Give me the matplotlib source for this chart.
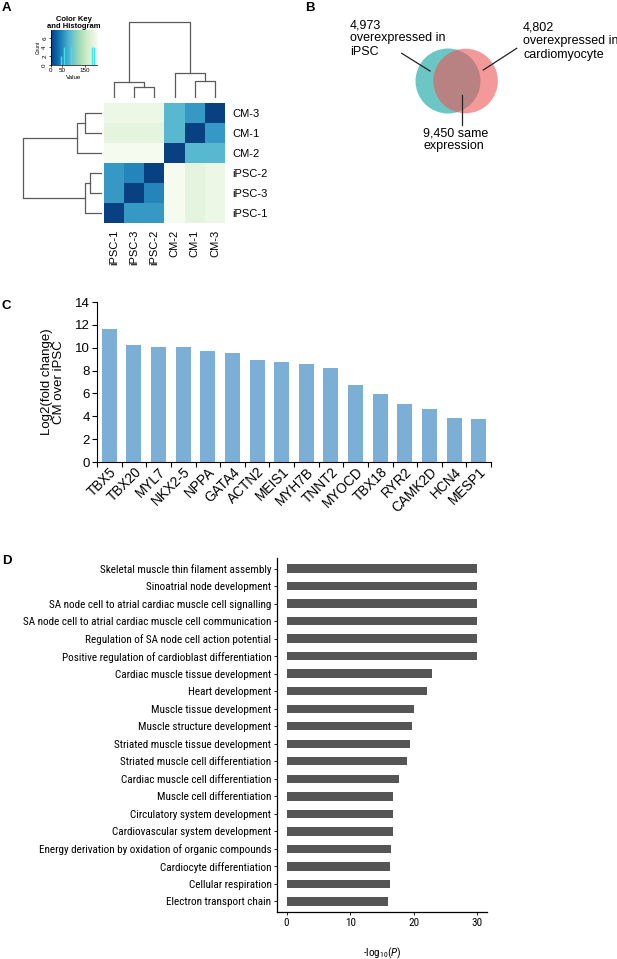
import numpy as np
import matplotlib
matplotlib.use("Agg")
import matplotlib.pyplot as plt
from matplotlib import font_manager
from matplotlib.patches import Circle

plt.rcParams['font.family'] = ['Liberation Sans', 'DejaVu Sans']

# panel D uses a condensed face if one is installed
_names = {f.name for f in font_manager.fontManager.ttflist}
_narrow = [n for n in ['Liberation Sans Narrow', 'Roboto Condensed', 'Arial Narrow',
                       'Open Sans Condensed'] if n in _names]
if _narrow:
    NARROW = [_narrow[0], 'Liberation Sans', 'DejaVu Sans']
    D_SIZE = 8.0
else:
    NARROW = ['Liberation Sans', 'DejaVu Sans']
    D_SIZE = 7.6
plt.rcParams['mathtext.fontset'] = 'custom'
plt.rcParams['mathtext.rm'] = NARROW[0]
plt.rcParams['mathtext.it'] = NARROW[0] + ':italic'

W, H = 617, 959

# ---- panel A: sample distance heatmap
samples = ['iPSC-1', 'iPSC-2', 'iPSC-3', 'CM-1', 'CM-2', 'CM-3']
dist = np.array([
    [0, 58, 58, 180, 198, 188],
    [58, 0, 46, 180, 198, 188],
    [58, 46, 0, 180, 198, 188],
    [180, 180, 180, 0, 80, 58],
    [198, 198, 198, 80, 0, 80],
    [188, 188, 188, 58, 80, 0],
])
# (left, right, height) merges, clusters numbered from 6 onwards
linkage = [(1, 2, 11.3), (0, 6, 16.2), (3, 5, 17.0), (4, 8, 24.8), (7, 9, 76.7)]
col_order = [0, 2, 1, 4, 3, 5]
row_order = [5, 3, 4, 1, 2, 0]
hist_value = [43, 58, 88, 178, 190]
hist_count = [2, 4, 4, 4, 4]

# ---- panel B: venn
n_ipsc_only = 4973
n_cm_only = 4802
n_same = 9450

# ---- panel C: fold change
genes = ['TBX5', 'TBX20', 'MYL7', 'NKX2-5', 'NPPA', 'GATA4', 'ACTN2', 'MEIS1',
         'MYH7B', 'TNNT2', 'MYOCD', 'TBX18', 'RYR2', 'CAMK2D', 'HCN4', 'MESP1']
log2fc = [11.65, 10.2, 10.1, 10.05, 9.67, 9.53, 8.89, 8.77,
          8.54, 8.25, 6.76, 5.98, 5.04, 4.66, 3.88, 3.79]

# ---- panel D: GO terms
go_terms = ['Skeletal muscle thin filament assembly', 'Sinoatrial node development',
            'SA node cell to atrial cardiac muscle cell signalling',
            'SA node cell to atrial cardiac muscle cell communication',
            'Regulation of SA node cell action potential',
            'Positive regulation of cardioblast differentiation',
            'Cardiac muscle tissue development', 'Heart development',
            'Muscle tissue development', 'Muscle structure development',
            'Striated muscle tissue development', 'Striated muscle cell differentiation',
            'Cardiac muscle cell differentiation', 'Muscle cell differentiation',
            'Circulatory system development', 'Cardiovascular system development',
            'Energy derivation by oxidation of organic compounds',
            'Cardiocyte differentiation', 'Cellular respiration', 'Electron transport chain']
neglogp = [30, 30, 30, 30, 30, 30, 22.8, 22.1, 20.0, 19.7, 19.4, 18.96,
           17.6, 16.75, 16.7, 16.65, 16.4, 16.3, 16.25, 15.96]

fig = plt.figure(figsize=(W / 100, H / 100), dpi=100)


def px_axes(x0, y0, x1, y1):
    return fig.add_axes([x0 / W, 1 - y1 / H, (x1 - x0) / W, (y1 - y0) / H])


def dendro(ax, order, link, vertical):
    pos = {leaf: i for i, leaf in enumerate(order)}
    hgt = {leaf: 0.0 for leaf in order}
    n = len(order)
    for k, (a, b, h) in enumerate(link):
        xs = [pos[a], pos[a], pos[b], pos[b]]
        ys = [hgt[a], h, h, hgt[b]]
        if vertical:
            ax.plot(xs, ys, color='#5a5a5a', lw=0.9)
        else:
            ax.plot(ys, xs, color='#5a5a5a', lw=0.9)
        pos[n + k] = (pos[a] + pos[b]) / 2
        hgt[n + k] = h


# heatmap
hm = px_axes(104, 103, 225, 223)
hm.imshow(dist[np.ix_(row_order, col_order)], cmap='GnBu_r', vmin=0, vmax=200,
          aspect='auto', interpolation='nearest')
hm.yaxis.tick_right()
hm.set_yticks(range(6), labels=[samples[i] for i in row_order], fontsize=8)
hm.set_xticks(range(6), labels=[samples[i] for i in col_order], fontsize=8, rotation=90)
hm.tick_params(length=0, pad=5)
for s in hm.spines.values():
    s.set_visible(False)

# column dendrogram
cd = px_axes(104, 20, 225, 98)
dendro(cd, col_order, linkage, True)
cd.set_xlim(-0.5, 5.5)
cd.set_ylim(0, 78.5)
cd.axis('off')

# row dendrogram
rd = px_axes(20, 103, 102, 223)
dendro(rd, row_order, linkage, False)
rd.set_ylim(5.5, -0.5)
rd.set_xlim(80, 0)
rd.axis('off')

# colour key
ck = px_axes(50.7, 30, 96.7, 65)
ck.imshow(np.linspace(0, 200, 200)[None, :], cmap='GnBu_r', vmin=0, vmax=200,
          extent=(0, 200, 0, 7.8), aspect='auto')
ck.vlines(hist_value, 0, hist_count, color='#33e6f0', lw=1)
ck.set_xlim(0, 200)
ck.set_ylim(0, 7.8)
ck.set_xticks([0, 50, 150])
ck.set_yticks([0, 2, 4, 6])
ck.tick_params(labelsize=4.5, length=1.5, width=0.5, pad=1)
plt.setp(ck.get_yticklabels(), rotation=90, va='center')
ck.set_xlabel('Value', fontsize=4.5, labelpad=1)
ck.set_ylabel('Count', fontsize=3.5, labelpad=1)
ck.set_title('Color Key\nand Histogram', fontsize=5.5, fontweight='bold', pad=-3,
             linespacing=0.95)
for side in ['top', 'right']:
    ck.spines[side].set_visible(False)
for side in ['left', 'bottom']:
    ck.spines[side].set_linewidth(0.5)

# ---- venn
r1 = np.sqrt((n_ipsc_only + n_same) / np.pi)
r2 = np.sqrt((n_cm_only + n_same) / np.pi)


def overlap(d):
    a1 = r1 ** 2 * np.arccos((d ** 2 + r1 ** 2 - r2 ** 2) / (2 * d * r1))
    a2 = r2 ** 2 * np.arccos((d ** 2 + r2 ** 2 - r1 ** 2) / (2 * d * r2))
    a3 = 0.5 * np.sqrt((-d + r1 + r2) * (d + r1 - r2) * (d - r1 + r2) * (d + r1 + r2))
    return a1 + a2 - a3


lo, hi = abs(r1 - r2) + 1e-6, r1 + r2 - 1e-6
for _ in range(60):
    mid = (lo + hi) / 2
    if overlap(mid) > n_same:
        lo = mid
    else:
        hi = mid
d = (lo + hi) / 2

scale = 32.5 / r1  # px per unit
vx0, vy0, vx1, vy1 = 400, 40, 525, 125
cx, cy = 448, 81
va = px_axes(vx0, vy0, vx1, vy1)
va.add_patch(Circle((0, 0), r1, color='#0aa29d', alpha=0.6, lw=0))
va.add_patch(Circle((d, 0), r2, color='#ee5557', alpha=0.6, lw=0))
va.set_xlim((vx0 - cx) / scale, (vx1 - cx) / scale)
va.set_ylim(-(vy1 - cy) / scale, (cy - vy0) / scale)
va.axis('off')

# ---- panel C
ax_c = px_axes(97, 302, 491, 462)
xc = np.arange(len(genes))
ax_c.bar(xc, log2fc, width=0.61, color='#7bafd6')
ax_c.set_xlim(-0.5, len(genes) - 0.5)
ax_c.set_ylim(0, 14)
ax_c.set_yticks(range(0, 15, 2))
ax_c.set_xticks(np.arange(-0.5, len(genes), 1), labels=[])
ax_c.set_xticks(xc, labels=genes, minor=True)
ax_c.tick_params(axis='x', which='minor', length=0, pad=2)
ax_c.tick_params(which='major', length=3.5, width=0.8, labelsize=9.5, pad=1.5)
for lab in ax_c.get_xticklabels(minor=True):
    lab.set_rotation(45)
    lab.set_ha('right')
    lab.set_va('top')
    lab.set_rotation_mode('anchor')
    lab.set_fontsize(9.8)
ax_c.set_ylabel('Log2(fold change)\nCM over iPSC', fontsize=9.5, labelpad=7, linespacing=1.05)
for side in ['top', 'right']:
    ax_c.spines[side].set_visible(False)
for side in ['left', 'bottom']:
    ax_c.spines[side].set_linewidth(0.8)

# ---- panel D
ax_d = px_axes(277, 558, 487, 912)
yd = np.arange(len(go_terms))
ax_d.barh(yd, neglogp, height=0.48, color='#555555')
ax_d.set_ylim(len(go_terms) - 0.4, -0.6)
ax_d.set_xlim(-1.5, 31.5)
ax_d.set_yticks(yd, labels=go_terms)
ax_d.set_xticks([0, 10, 20, 30])
ax_d.tick_params(length=2.5, width=0.6, pad=1.5, labelsize=D_SIZE)
for lab in ax_d.get_yticklabels() + ax_d.get_xticklabels():
    lab.set_family(NARROW)
ax_d.set_xlabel('-log$_{10}$($P$)', fontsize=D_SIZE, labelpad=13, family=NARROW)
for side in ['top', 'right']:
    ax_d.spines[side].set_visible(False)
for side in ['left', 'bottom']:
    ax_d.spines[side].set_linewidth(0.9)

# ---- overlay for panel letters and venn annotations
ov = fig.add_axes([0, 0, 1, 1])
ov.set_xlim(0, W)
ov.set_ylim(H, 0)
ov.axis('off')
for letter, (lx, ly) in {'A': (2, 2), 'B': (305, 2), 'C': (2, 300), 'D': (2, 555)}.items():
    ov.text(lx, ly, letter, fontsize=9.5, fontweight='bold', va='top', ha='left')
ov.text(350, 19, '4,973\noverexpressed in\niPSC', fontsize=9, va='top', ha='left',
        linespacing=1.15)
ov.text(523, 22, '4,802\noverexpressed in\ncardiomyocyte', fontsize=9, va='top',
        ha='left', linespacing=1.15)
ov.text(423, 127, '9,450 same\nexpression', fontsize=9, va='top', ha='left',
        linespacing=1.15)
ov.plot([401.7, 430], [53.3, 71], color='#222222', lw=0.9)
ov.plot([516.7, 483.3], [48.3, 70], color='#222222', lw=0.9)
ov.plot([462.3, 462.3], [95, 125], color='#222222', lw=0.9)

fig.savefig('out.png', dpi=100)
